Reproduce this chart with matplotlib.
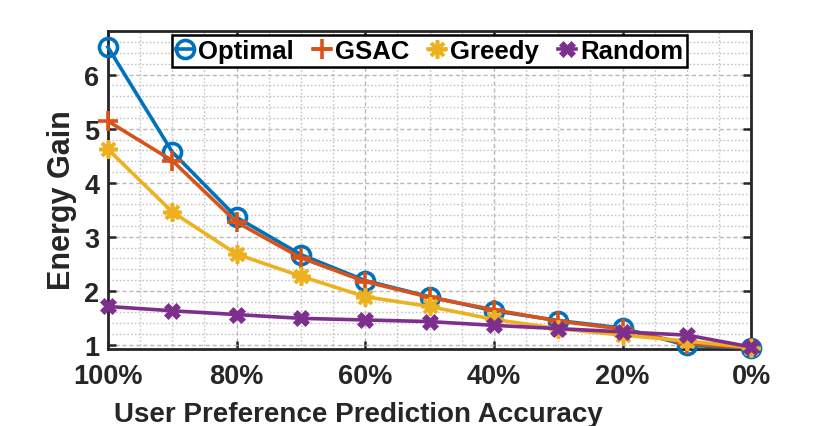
import matplotlib
matplotlib.use("Agg")
import matplotlib.pyplot as plt
from matplotlib.ticker import MultipleLocator, FuncFormatter

accuracy = [100, 90, 80, 70, 60, 50, 40, 30, 20, 10, 0]
optimal = [6.51, 4.57, 3.36, 2.67, 2.19, 1.89, 1.63, 1.45, 1.31, 0.99, 0.94]
gsac = [5.14, 4.41, 3.27, 2.61, 2.17, 1.88, 1.65, 1.44, 1.29, 1.02, 0.94]
greedy = [4.62, 3.46, 2.68, 2.27, 1.89, 1.71, 1.47, 1.30, 1.18, 1.07, 0.95]
random_ = [1.71, 1.63, 1.56, 1.49, 1.46, 1.43, 1.36, 1.30, 1.24, 1.18, 0.96]
series_names = ["Optimal", "GSAC", "Greedy", "Random"]
x_ticks = [100, 80, 60, 40, 20, 0]
y_ticks = [1, 2, 3, 4, 5, 6]

colors = ["#0072BD", "#D95319", "#EDB120", "#7E2F8E"]
markers = ["o", "+", (8, 2, 0), "X"]
msizes = [13, 14, 13, 11]

plt.rcParams['font.family'] = ['Liberation Sans', 'DejaVu Sans']
plt.rcParams['font.weight'] = 'bold'

fig = plt.figure(figsize=(8.3, 4.27), dpi=100)
ax = fig.add_axes([0.130, 0.180, 0.775, 0.744])

for vals, name, c, m, ms in zip([optimal, gsac, greedy, random_], series_names, colors, markers, msizes):
    kw = dict(color=c, lw=2.6, marker=m, markersize=ms, markeredgewidth=2.6, label=name, clip_on=False, zorder=3)
    if m == "o":
        kw['markerfacecolor'] = 'none'
    elif m == "X":
        kw['markeredgewidth'] = 0.5
        kw['markeredgecolor'] = c
    ax.plot(accuracy, vals, **kw)

ax.set_xlim(100, 0)
ax.set_ylim(0.92, 6.8)
ax.set_xticks(x_ticks)
ax.xaxis.set_major_formatter(FuncFormatter(lambda v, p: f"{int(v)}%"))
ax.set_yticks(y_ticks)
ax.xaxis.set_minor_locator(MultipleLocator(5))
ax.yaxis.set_minor_locator(MultipleLocator(0.2))

ax.grid(True, which='major', color='#b8b8b8', linestyle=(0, (3, 2)), linewidth=1.0, zorder=0)
ax.grid(True, which='minor', color='#c4c4c4', linestyle=(0, (1.2, 1.5)), linewidth=1.0, zorder=0)
ax.set_axisbelow(True)

ax.tick_params(which='major', direction='in', length=6, width=1.8, top=True, right=True,
               labelsize=19.5, colors='#262626', pad=6)
ax.tick_params(axis='x', which='major', pad=10)
ax.tick_params(which='minor', length=0)
for lab in ax.get_xticklabels() + ax.get_yticklabels():
    lab.set_fontweight('bold')
for s in ax.spines.values():
    s.set_linewidth(2.0)
    s.set_color('#262626')

fig.text(358.5 / 830, (427 - 421.7) / 427, "User Preference Prediction Accuracy",
         fontsize=20, fontweight='bold', color='#262626', ha='center', va='baseline')
fig.text(62 / 830, 1 - 200 / 427, "Energy Gain", rotation=90,
         fontsize=22, fontweight='bold', color='#262626', ha='center', va='center')

leg = ax.legend(loc='upper center', bbox_to_anchor=(0.5175, 0.9157), bbox_transform=fig.transFigure,
                ncol=4, frameon=True, fancybox=False, edgecolor='black', framealpha=1,
                prop={'weight': 'bold', 'size': 18.5}, handlelength=0.7, handletextpad=0.15,
                columnspacing=0.75, borderpad=0.15, borderaxespad=0)
leg.get_frame().set_linewidth(1.8)

fig.savefig("out.png", dpi=100)
